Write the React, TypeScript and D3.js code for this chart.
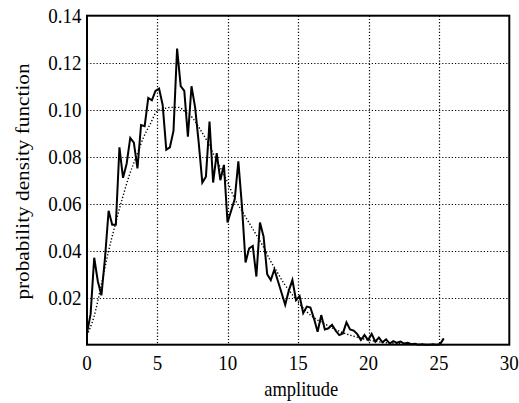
import React from "react";
import * as d3 from "d3";

const binWidth = 0.256;
const pdfValues = [
  0.005, 0.013, 0.037, 0.027, 0.021, 0.037, 0.057, 0.051, 0.051, 0.084,
  0.071, 0.077, 0.088, 0.086, 0.075, 0.0935, 0.093, 0.105, 0.104, 0.108,
  0.109, 0.102, 0.083, 0.084, 0.091, 0.126, 0.11, 0.108, 0.0885, 0.11,
  0.101, 0.086, 0.069, 0.0715, 0.095, 0.069, 0.0815, 0.07, 0.0765, 0.052,
  0.057, 0.062, 0.078, 0.059, 0.035, 0.041, 0.042, 0.029, 0.052, 0.046,
  0.03, 0.0275, 0.032, 0.027, 0.022, 0.017, 0.023, 0.0275, 0.019, 0.0207,
  0.0134, 0.0162, 0.0158, 0.011, 0.0055, 0.0126, 0.0065, 0.007, 0.0085, 0.006,
  0.0041, 0.0048, 0.0095, 0.0065, 0.006, 0.0045, 0.002, 0.0041, 0.002, 0.0046,
  0.0013, 0.003, 0.001, 0.0023, 0.0005, 0.0015, 0.0008, 0.0013, 0.0005, 0.0008,
  0.0002, 0.0004, 0, 0.0002, 0, 0, 0.0002, 0, 0.0003, 0.0027,
];

const fitX = [0, 0.5, 1, 1.5, 2, 2.5, 3, 3.5, 4, 4.5, 5, 5.5, 6, 6.5, 7, 7.5, 8, 8.5, 9, 9.5, 10, 10.5, 11, 11.5, 12, 12.5, 13, 13.5, 14, 14.5, 15, 16, 17, 18, 19, 20, 21, 22, 23, 24, 25.3];
const fitY = [0.004, 0.012, 0.025, 0.039, 0.051, 0.062, 0.072, 0.08, 0.088, 0.094, 0.0995, 0.1005, 0.101, 0.101, 0.099, 0.0965, 0.092, 0.087, 0.081, 0.075, 0.069, 0.062, 0.057, 0.052, 0.047, 0.042, 0.036, 0.031, 0.026, 0.022, 0.018, 0.012, 0.0085, 0.0055, 0.0035, 0.002, 0.001, 0.0005, 0.0002, 0.0001, 0];

const xTicks = [0, 5, 10, 15, 20, 25, 30];
const yTicks = [0.02, 0.04, 0.06, 0.08, 0.1, 0.12, 0.14];
const xLabel = "amplitude";
const yLabel = "probability density function";

const W = 519;
const H = 403;
const left = 87;
const right = 509.3;
const top = 15.7;
const bottom = 344.7;
const FONT = "Liberation Serif, Times New Roman, DejaVu Serif, serif";
const FS = 19;
const SY = 1.12;

export default function App() {
  const x = d3.scaleLinear().domain([0, 30]).range([left, right]);
  const y = d3.scaleLinear().domain([0, 0.14]).range([bottom, top]);
  const crisp = (v: number) => Math.round(v) + 0.5;

  const pdfLine = d3
    .line<number>()
    .x((_, i) => x(i * binWidth))
    .y((d) => y(d));
  const fitLine = d3
    .line<number>()
    .x((_, i) => x(fitX[i]))
    .y((d) => y(d))
    .curve(d3.curveMonotoneX);

  return (
    <svg
      width={W}
      height={H}
      style={{ position: "absolute", left: 0, top: 0, background: "#fff" }}
    >
      <rect x={0} y={0} width={W} height={H} fill="#fff" />
      {/* grid */}
      {xTicks.slice(1, -1).map((t) => (
        <line
          key={"gx" + t}
          x1={crisp(x(t))}
          x2={crisp(x(t))}
          y1={top}
          y2={bottom}
          stroke="#000"
          strokeWidth={1.2}
          strokeDasharray="1.2,2"
        />
      ))}
      {yTicks.slice(0, -1).map((t) => (
        <line
          key={"gy" + t}
          x1={left}
          x2={right}
          y1={crisp(y(t))}
          y2={crisp(y(t))}
          stroke="#000"
          strokeWidth={1.2}
          strokeDasharray="1.2,2"
        />
      ))}
      {/* fit */}
      <path
        d={fitLine(fitY) || ""}
        fill="none"
        stroke="#000"
        strokeWidth={1.4}
        strokeDasharray="1.3,2"
      />
      {/* data */}
      <path
        d={pdfLine(pdfValues) || ""}
        fill="none"
        stroke="#000"
        strokeWidth={2}
        strokeLinejoin="miter"
      />
      {/* frame */}
      <rect
        x={left}
        y={top}
        width={right - left}
        height={bottom - top}
        fill="none"
        stroke="#000"
        strokeWidth={2}
      />
      {/* x tick labels */}
      {xTicks.map((t) => (
        <text
          key={"xt" + t}
          transform={`translate(${x(t)},${369.5}) scale(1,${SY})`}
          textAnchor="middle"
          fontFamily={FONT}
          fontSize={FS}
          fill="#000"
        >
          {t}
        </text>
      ))}
      {/* y tick labels */}
      {yTicks.map((t) => (
        <text
          key={"yt" + t}
          transform={`translate(${81.5},${y(t) + 7}) scale(1,${SY})`}
          textAnchor="end"
          fontFamily={FONT}
          fontSize={FS}
          fill="#000"
        >
          {t.toFixed(2)}
        </text>
      ))}
      <text
        transform={`translate(${(left + right) / 2 + 3},${395.5}) scale(1,${SY})`}
        textAnchor="middle"
        fontFamily={FONT}
        fontSize={FS - 0.5}
        fill="#000"
      >
        {xLabel}
      </text>
      <text
        transform={`translate(${29},${181.5}) rotate(-90) scale(${SY},1)`}
        textAnchor="middle"
        fontFamily={FONT}
        fontSize={FS}
        fill="#000"
      >
        {yLabel}
      </text>
    </svg>
  );
}
